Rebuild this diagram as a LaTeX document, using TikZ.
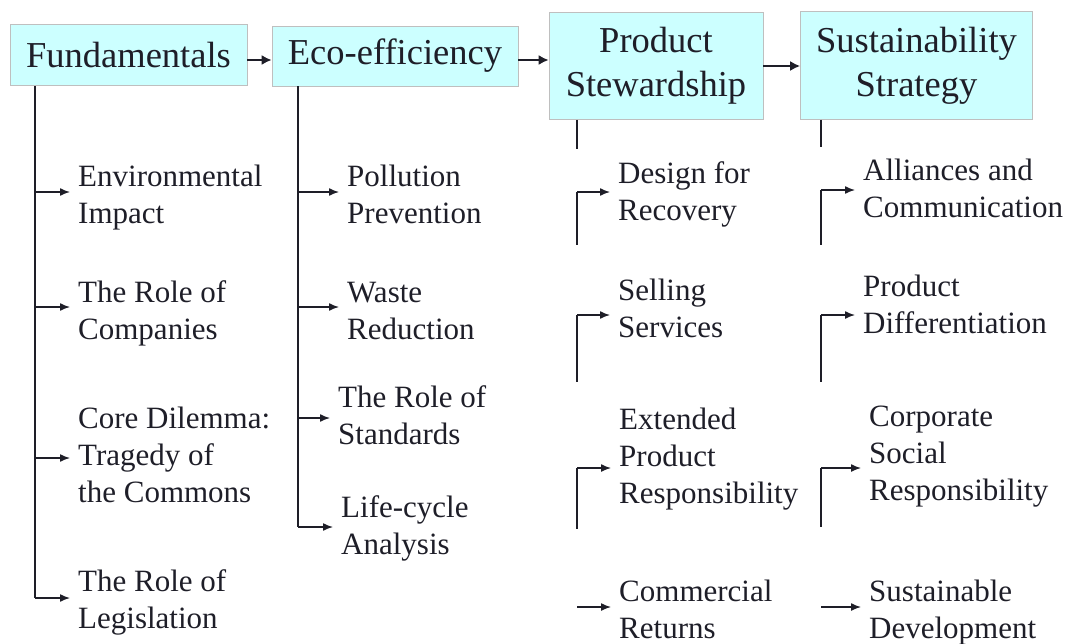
\documentclass[tikz,border=0pt]{standalone}
\usepackage{fontspec}
\setmainfont{Liberation Serif}
\usetikzlibrary{arrows.meta}
\definecolor{headcyan}{HTML}{CCFFFF}
\definecolor{inkgray}{HTML}{1E1E28}
\begin{document}
\begin{tikzpicture}[x=1pt,y=-1pt,
        head node/.style={fill=headcyan,draw=black!25,line width=0.6pt,inner sep=0pt,align=center,
                          font=\fontsize{36.5}{44}\selectfont,text=inkgray},
        topic node/.style={anchor=base west,align=left,inner xsep=8pt,inner ysep=0pt,
                           font=\fontsize{31}{37}\selectfont,text=inkgray},
        link/.style={line width=1.4pt,draw=inkgray},
        tip/.style={link,-{Latex[length=10pt,width=8pt]}},
        big tip/.style={line width=2.4pt,draw=inkgray,-{Latex[length=10pt,width=10pt]}}]

        \useasboundingbox (0,0) rectangle (1068,643);

        % Define headers
        \node[head node,minimum width=237pt,minimum height=61pt] (fund) at (128.5,55) {Fundamentals};
        \node[head node,minimum width=246pt,minimum height=60pt] (eco) at (395,56) {Eco-efficiency};
        \node[head node,minimum width=214pt,minimum height=107pt] (prod) at (656,66) {Product\\Stewardship};
        \node[head node,minimum width=232pt,minimum height=108pt] (sust) at (916.5,65.5) {Sustainability\\Strategy};

        % Define topics (placed on the baseline of their last line)
        \node[topic node] (env) at (70,223) {Environmental\\Impact};
        \node[topic node] (comp) at (70,339) {The Role of\\Companies};
        \node[topic node] (core) at (70,502) {Core Dilemma:\\Tragedy of\\the Commons};
        \node[topic node] (legis) at (70,628) {The Role of\\Legislation};

        \node[topic node] (poll) at (339,223) {Pollution\\Prevention};
        \node[topic node] (waste) at (339,339) {Waste\\Reduction};
        \node[topic node] (stand) at (330,444) {The Role of\\Standards};
        \node[topic node] (life) at (333,554) {Life-cycle\\Analysis};

        \node[topic node] (design) at (610,220) {Design for\\Recovery};
        \node[topic node] (sell) at (610,337) {Selling\\Services};
        \node[topic node] (ext) at (611,503) {Extended\\Product\\Responsibility};
        \node[topic node] (comm) at (611,638) {Commercial\\Returns};

        \node[topic node] (alli) at (855,217) {Alliances and\\Communication};
        \node[topic node] (diff) at (855,333) {Product\\Differentiation};
        \node[topic node] (csr) at (861,500) {Corporate\\Social\\Responsibility};
        \node[topic node] (sdev) at (861,638) {Sustainable\\Development};

        % Branch points
        \coordinate (f1) at (35,192);
        \coordinate (f2) at (35,307);
        \coordinate (f3) at (35,458);
        \coordinate (f4) at (35,598);

        \coordinate (e1) at (298,192);
        \coordinate (e2) at (298,307);
        \coordinate (e3) at (298,418);
        \coordinate (e4) at (298,527);

        \coordinate (p0) at (577,149);
        \coordinate (p1) at (577,192);
        \coordinate (q1) at (577,245);
        \coordinate (p2) at (577,315);
        \coordinate (q2) at (577,382);
        \coordinate (p3) at (577,468);
        \coordinate (q3) at (577,529);
        \coordinate (p4) at (577,607);

        \coordinate (s0) at (821,147);
        \coordinate (s1) at (821,190);
        \coordinate (t1) at (821,245);
        \coordinate (s2) at (821,315);
        \coordinate (t2) at (821,382);
        \coordinate (s3) at (821,468);
        \coordinate (t3) at (821,527);
        \coordinate (s4) at (821,607);

        % Draw header arrows
        \draw[big tip] ([yshift=-5pt]fund.east) -- ([yshift=-5pt]fund.east -| eco.west);
        \draw[big tip] ([yshift=-4pt]eco.east) -- ([yshift=-4pt]eco.east -| prod.west);
        \draw[big tip] (prod.east) -- (prod.east -| sust.west);

        % Draw trunks
        \draw[link] (fund.south -| f1) -- (f4);
        \draw[link] (eco.south -| e1) -- (e4);
        \draw[link] (prod.south -| p0) -- (p0);
        \draw[link] (p1) -- (q1);
        \draw[link] (p2) -- (q2);
        \draw[link] (p3) -- (q3);
        \draw[link] (sust.south -| s0) -- (s0);
        \draw[link] (s1) -- (t1);
        \draw[link] (s2) -- (t2);
        \draw[link] (s3) -- (t3);

        % Draw edges
        \path[every edge/.style={tip}]
            (f1) edge (f1 -| env.west)
            (f2) edge (f2 -| comp.west)
            (f3) edge (f3 -| core.west)
            (f4) edge (f4 -| legis.west)
            (e1) edge (e1 -| poll.west)
            (e2) edge (e2 -| waste.west)
            (e3) edge (e3 -| stand.west)
            (e4) edge (e4 -| life.west)
            (p1) edge (p1 -| design.west)
            (p2) edge (p2 -| sell.west)
            (p3) edge (p3 -| ext.west)
            (p4) edge (p4 -| comm.west)
            (s1) edge (s1 -| alli.west)
            (s2) edge (s2 -| diff.west)
            (s3) edge (s3 -| csr.west)
            (s4) edge (s4 -| sdev.west);

\end{tikzpicture}
\end{document}
